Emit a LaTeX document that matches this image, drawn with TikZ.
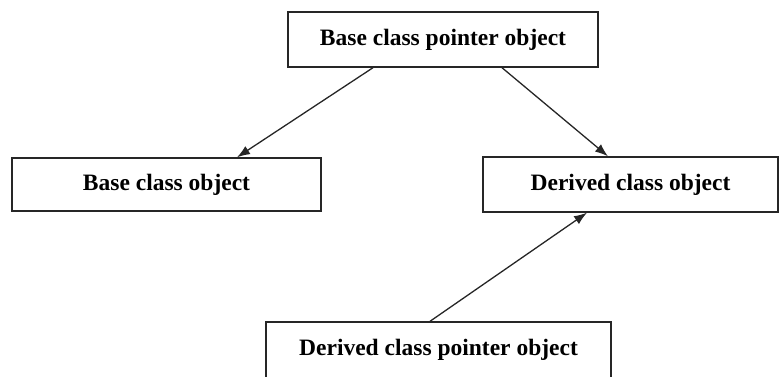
\documentclass[tikz,border=0pt]{standalone}
\usepackage{fontspec}
\setmainfont{Liberation Serif}
\usepackage{tikz}
\usetikzlibrary{arrows.meta,positioning}
\tikzset{
    classbox/.style={draw=black!85, line width=1.4pt, rectangle, inner sep=0pt,
        minimum height=55pt, font=\fontsize{23.5}{28}\selectfont\bfseries},
    pointsto/.style={-{Latex[length=13pt, width=9.5pt]}, line width=1.3pt, black!85}
}

\begin{document}
\begin{tikzpicture}[x=1pt, y=-1pt]
    \useasboundingbox (0,0) rectangle (780,376);

    \node[classbox, minimum width=310pt] (bptr) at (443,39.5) {Base class pointer object};
    \node[classbox, minimum width=309pt, minimum height=53pt] (bobj) at (166.5,184.5) {Base class object};
    \node[classbox, minimum width=295pt] (dobj) at (630.5,184.5) {Derived class object};
    \node[classbox, minimum width=345pt, minimum height=56pt] (dptr) at (438.5,350) {Derived class pointer object};

    % base pointer reaches both objects, derived pointer only the derived one
    \draw[pointsto] ([xshift=-70pt]bptr.south) -- ([xshift=70.5pt]bobj.north);
    \draw[pointsto] ([xshift=59pt]bptr.south) -- ([xshift=-22.5pt]dobj.north);
    \draw[pointsto] ([xshift=-8.5pt]dptr.north) -- ([xshift=-43.5pt]dobj.south);
\end{tikzpicture}
\end{document}
